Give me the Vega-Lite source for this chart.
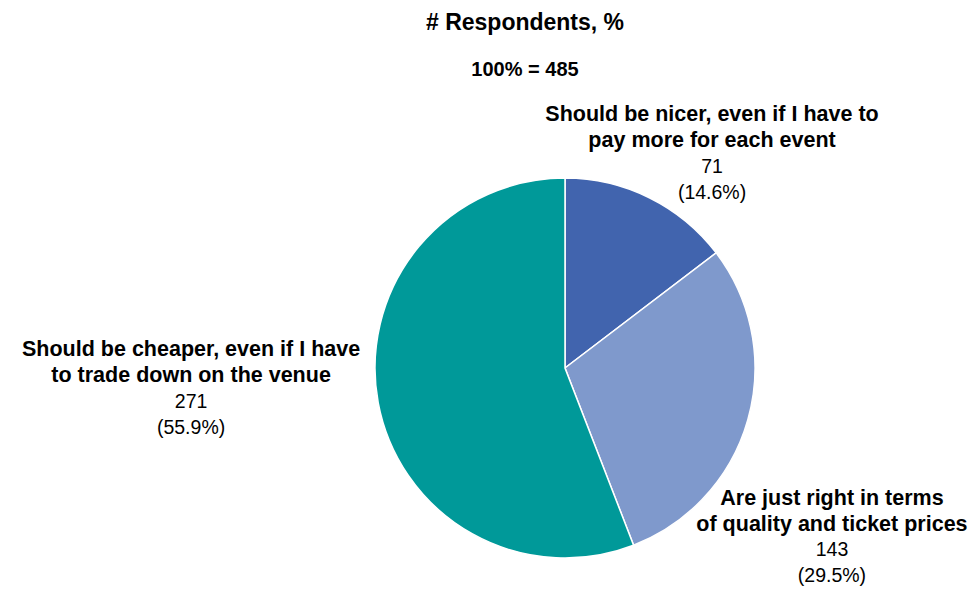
{
  "$schema": "https://vega.github.io/schema/vega-lite/v6.json",
  "autosize": "none",
  "width": 380,
  "height": 380,
  "padding": {"left": 375, "top": 178, "right": 225, "bottom": 34},
  "background": "white",
  "config": {"view": {"stroke": null}, "font": "Liberation Sans"},
  "title": {
    "text": "# Respondents, %",
    "subtitle": "100% = 485",
    "anchor": "middle",
    "frame": "group",
    "dx": -40,
    "offset": 0,
    "font": "Liberation Sans",
    "fontSize": 23,
    "fontWeight": "bold",
    "color": "black",
    "subtitleFont": "Liberation Sans",
    "subtitleFontSize": 20,
    "subtitleFontWeight": "bold",
    "subtitleColor": "black",
    "subtitlePadding": 25
  },
  "data": {
    "values": [
      {"key": "nicer", "rank": 1, "answer": "Should be nicer, even if I have to pay more for each event", "bold": "Should be nicer, even if I have to\npay more for each event", "count": 71, "vals": "71\n(14.6%)"},
      {"key": "right", "rank": 2, "answer": "Are just right in terms of quality and ticket prices", "bold": "Are just right in terms\nof quality and ticket prices", "count": 143, "vals": "143\n(29.5%)"},
      {"key": "cheaper", "rank": 3, "answer": "Should be cheaper, even if I have to trade down on the venue", "bold": "Should be cheaper, even if I have\nto trade down on the venue", "count": 271, "vals": "271\n(55.9%)"}
    ]
  },
  "encoding": {
    "theta": {"field": "count", "type": "quantitative", "stack": true},
    "order": {"field": "rank", "type": "quantitative", "sort": "ascending"}
  },
  "layer": [
    {
      "mark": {"type": "arc", "stroke": "white", "strokeWidth": 1.5},
      "encoding": {
        "color": {
          "field": "answer",
          "type": "nominal",
          "legend": null,
          "scale": {
            "domain": [
              "Should be nicer, even if I have to pay more for each event",
              "Are just right in terms of quality and ticket prices",
              "Should be cheaper, even if I have to trade down on the venue"
            ],
            "range": ["#4164AE", "#7F99CC", "#009999"]
          }
        }
      }
    },
    {
      "mark": {"type": "text", "radius": 240, "dx": 40.5, "dy": -38, "fontSize": 21.5, "fontWeight": "bold", "lineHeight": 26, "lineBreak": "\n", "color": "black", "align": "center", "baseline": "middle"},
      "encoding": {"text": {"condition": {"test": "datum.key === 'nicer'", "field": "bold"}, "value": ""}}
    },
    {
      "mark": {"type": "text", "radius": 240, "dx": 40.5, "dy": 14, "fontSize": 19.5, "lineHeight": 26, "lineBreak": "\n", "color": "black", "align": "center", "baseline": "middle"},
      "encoding": {"text": {"condition": {"test": "datum.key === 'nicer'", "field": "vals"}, "value": ""}}
    },
    {
      "mark": {"type": "text", "radius": 240, "dx": 36, "dy": 65.8, "fontSize": 21.5, "fontWeight": "bold", "lineHeight": 26, "lineBreak": "\n", "color": "black", "align": "center", "baseline": "middle"},
      "encoding": {"text": {"condition": {"test": "datum.key === 'right'", "field": "bold"}, "value": ""}}
    },
    {
      "mark": {"type": "text", "radius": 240, "dx": 36, "dy": 116.8, "fontSize": 19.5, "lineHeight": 26, "lineBreak": "\n", "color": "black", "align": "center", "baseline": "middle"},
      "encoding": {"text": {"condition": {"test": "datum.key === 'right'", "field": "vals"}, "value": ""}}
    },
    {
      "mark": {"type": "text", "radius": 240, "dx": -138, "dy": -62.1, "fontSize": 21.5, "fontWeight": "bold", "lineHeight": 26, "lineBreak": "\n", "color": "black", "align": "center", "baseline": "middle"},
      "encoding": {"text": {"condition": {"test": "datum.key === 'cheaper'", "field": "bold"}, "value": ""}}
    },
    {
      "mark": {"type": "text", "radius": 240, "dx": -138, "dy": -10.1, "fontSize": 19.5, "lineHeight": 26, "lineBreak": "\n", "color": "black", "align": "center", "baseline": "middle"},
      "encoding": {"text": {"condition": {"test": "datum.key === 'cheaper'", "field": "vals"}, "value": ""}}
    }
  ]
}
